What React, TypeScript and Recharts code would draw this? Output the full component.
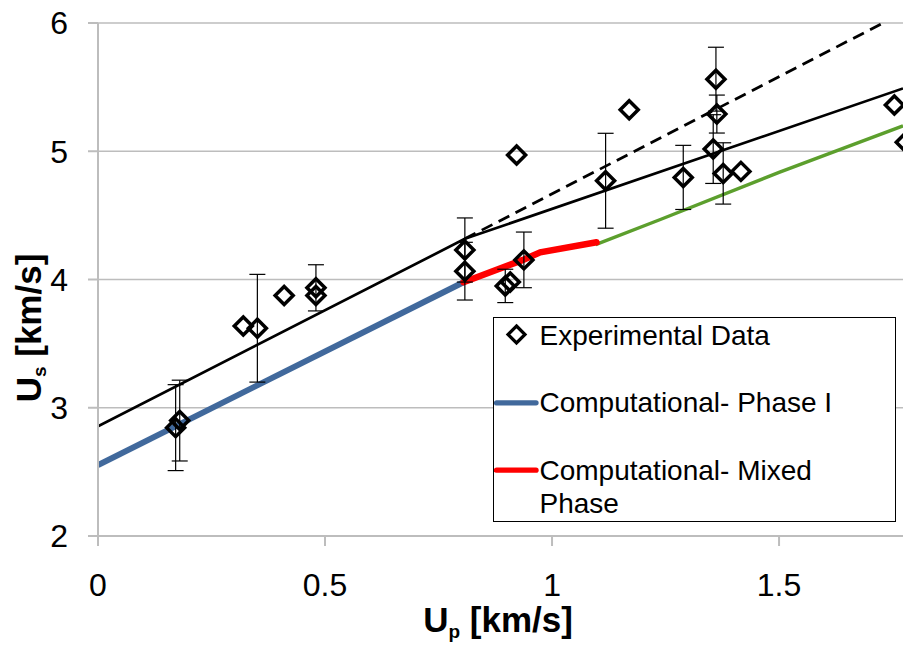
import React from 'react';
import {
  ComposedChart,
  Line,
  Scatter,
  XAxis,
  YAxis,
  CartesianGrid,
  ErrorBar,
  Legend,
} from 'recharts';

// ---------- data ----------
const xTicks = [0, 0.5, 1, 1.5];
const yTicks = [2, 3, 4, 5, 6];

// experimental points with error bars (x = Up, y = Us, err = +/-)
const expWithError = [
  { x: 0.171, y: 2.845, err: 0.335 },
  { x: 0.18, y: 2.9, err: 0.315 },
  { x: 0.351, y: 3.62, err: 0.42 },
  { x: 0.48, y: 3.935, err: 0.18 },
  { x: 0.808, y: 4.23, err: 0.25 },
  { x: 0.808, y: 4.065, err: 0.225 },
  { x: 0.897, y: 3.95, err: 0.13 },
  { x: 0.938, y: 4.153, err: 0.217 },
  { x: 1.118, y: 4.77, err: 0.37 },
  { x: 1.289, y: 4.796, err: 0.25 },
  { x: 1.361, y: 5.562, err: 0.249 },
  { x: 1.363, y: 5.29, err: 0.148 },
  { x: 1.355, y: 5.017, err: 0.268 },
  { x: 1.377, y: 4.827, err: 0.239 },
];

// experimental points without error bars
const expNoError = [
  { x: 0.32, y: 3.637 },
  { x: 0.41, y: 3.875 },
  { x: 0.48, y: 3.875 },
  { x: 0.908, y: 3.98 },
  { x: 0.922, y: 4.97 },
  { x: 1.17, y: 5.323 },
  { x: 1.416, y: 4.843 },
  { x: 1.754, y: 5.36 },
  { x: 1.778, y: 5.07 },
];

// fitted bilinear line (black) and its extension (dashed)
const fitLine = [
  { x: 0, y: 2.856 },
  { x: 0.808, y: 4.317 },
  { x: 1.773, y: 5.49 },
];
const fitExtension = [
  { x: 0.808, y: 4.317 },
  { x: 1.729, y: 6.0 },
];

// computational curves
const phaseI = [
  { x: 0, y: 2.553 },
  { x: 0.805, y: 3.979 },
];
const mixedPhase = [
  { x: 0.805, y: 3.979 },
  { x: 0.936, y: 4.153 },
  { x: 0.974, y: 4.212 },
  { x: 1.098, y: 4.29 },
];
const phaseII = [
  { x: 1.096, y: 4.272 },
  { x: 1.24, y: 4.47 },
  { x: 1.5, y: 4.835 },
  { x: 1.773, y: 5.198 },
];

// ---------- styles ----------
const FONT = '"Liberation Sans", Arial, Helvetica, sans-serif';
const GRID = '#bdbdbd';
const BLUE = '#41699c';
const RED = '#ff0000';
const GREEN = '#5c9f2d';

const Diamond = (props: any) => {
  const { cx, cy } = props;
  if (cx == null || cy == null || isNaN(cx) || isNaN(cy)) return null;
  const r = 9;
  return (
    <path
      d={`M${cx},${cy - r}L${cx + r},${cy}L${cx},${cy + r}L${cx - r},${cy}Z`}
      fill="none"
      stroke="#000"
      strokeWidth={3.5}
    />
  );
};

const renderLegend = () => (
  <div
    style={{
      width: 403,
      height: 205,
      boxSizing: 'border-box',
      border: '1.5px solid #000',
      background: '#fff',
    }}
  >
    <svg width={400} height={202} style={{ display: 'block' }}>
      <path d="M22.5,8L31,16.5L22.5,25L14,16.5Z" fill="none" stroke="#000" strokeWidth={3.2} />
      <text x={45.5} y={26.5} fontSize={28} fontFamily={FONT} fill="#000">
        Experimental Data
      </text>
      <line x1={2.5} y1={84.8} x2={42} y2={84.8} stroke={BLUE} strokeWidth={5.3} strokeLinecap="round" />
      <text x={45.5} y={93.8} fontSize={28} fontFamily={FONT} fill="#000">
        Computational- Phase I
      </text>
      <line x1={2.5} y1={152.2} x2={42} y2={152.2} stroke={RED} strokeWidth={5.3} strokeLinecap="round" />
      <text x={45.5} y={162.2} fontSize={28} fontFamily={FONT} fill="#000">
        Computational- Mixed
      </text>
      <text x={45.5} y={194.8} fontSize={28} fontFamily={FONT} fill="#000">
        Phase
      </text>
    </svg>
  </div>
);

const XTitle = () => (
  <text x={498} y={632} textAnchor="middle" fontSize={35} fontWeight="bold" fontFamily={FONT} fill="#000">
    U
    <tspan dy={6} fontSize={19}>p</tspan>
    <tspan dy={-6} fontSize={35}> [km/s]</tspan>
  </text>
);

const YTitle = () => (
  <text
    x={41}
    y={328}
    transform="rotate(-90, 41, 328)"
    textAnchor="middle"
    fontSize={35}
    fontWeight="bold"
    fontFamily={FONT}
    fill="#000"
  >
    U
    <tspan dy={5} fontSize={19}>s</tspan>
    <tspan dy={-5} fontSize={35}> [km/s]</tspan>
  </text>
);

export default function App() {
  const tickStyle = { fontSize: 32, fill: '#000', fontFamily: FONT };
  return (
    <div style={{ position: 'absolute', left: 0, top: 0, width: 903, height: 646, background: '#fff', overflow: 'hidden' }}>
      <ComposedChart width={903} height={646} margin={{ top: 23, right: 0, bottom: 0, left: 0 }}>
        <CartesianGrid vertical={false} stroke={GRID} strokeWidth={1.5} />
        <XAxis
          type="number"
          dataKey="x"
          domain={[0, 1.773]}
          ticks={xTicks}
          allowDataOverflow
          height={110}
          tickSize={10}
          tickMargin={27}
          tick={tickStyle}
          stroke={GRID}
          strokeWidth={2}
          tickFormatter={(v: number) => String(v)}
          label={{ content: XTitle }}
        />
        <YAxis
          type="number"
          dataKey="y"
          domain={[2, 6]}
          ticks={yTicks}
          allowDataOverflow
          width={98}
          tickSize={10}
          tickMargin={20}
          tick={tickStyle}
          stroke={GRID}
          strokeWidth={2}
          label={{ content: YTitle }}
        />
        <Line data={phaseI} dataKey="y" type="linear" stroke={BLUE} strokeWidth={6} dot={false} isAnimationActive={false} legendType="none" />
        <Line data={phaseII} dataKey="y" type="linear" stroke={GREEN} strokeWidth={3.4} dot={false} isAnimationActive={false} legendType="none" />
        <Line data={mixedPhase} dataKey="y" type="linear" stroke={RED} strokeWidth={6.5} strokeLinecap="round" dot={false} isAnimationActive={false} legendType="none" />
        <Line data={fitLine} dataKey="y" type="linear" stroke="#000" strokeWidth={2.7} dot={false} isAnimationActive={false} legendType="none" />
        <Line data={fitExtension} dataKey="y" type="linear" stroke="#000" strokeWidth={2.8} strokeDasharray="12 7" dot={false} isAnimationActive={false} legendType="none" />
        <Scatter data={expWithError} dataKey="y" shape={Diamond} isAnimationActive={false}>
          <ErrorBar dataKey="err" direction="y" width={8} stroke="#000" strokeWidth={1.2} isAnimationActive={false} />
        </Scatter>
        <Scatter data={expNoError} dataKey="y" shape={Diamond} isAnimationActive={false} />
        <Legend
          layout="vertical"
          align="center"
          verticalAlign="middle"
          content={renderLegend}
          wrapperStyle={{ left: 493, top: 317, width: 403, height: 205 }}
        />
      </ComposedChart>
    </div>
  );
}
